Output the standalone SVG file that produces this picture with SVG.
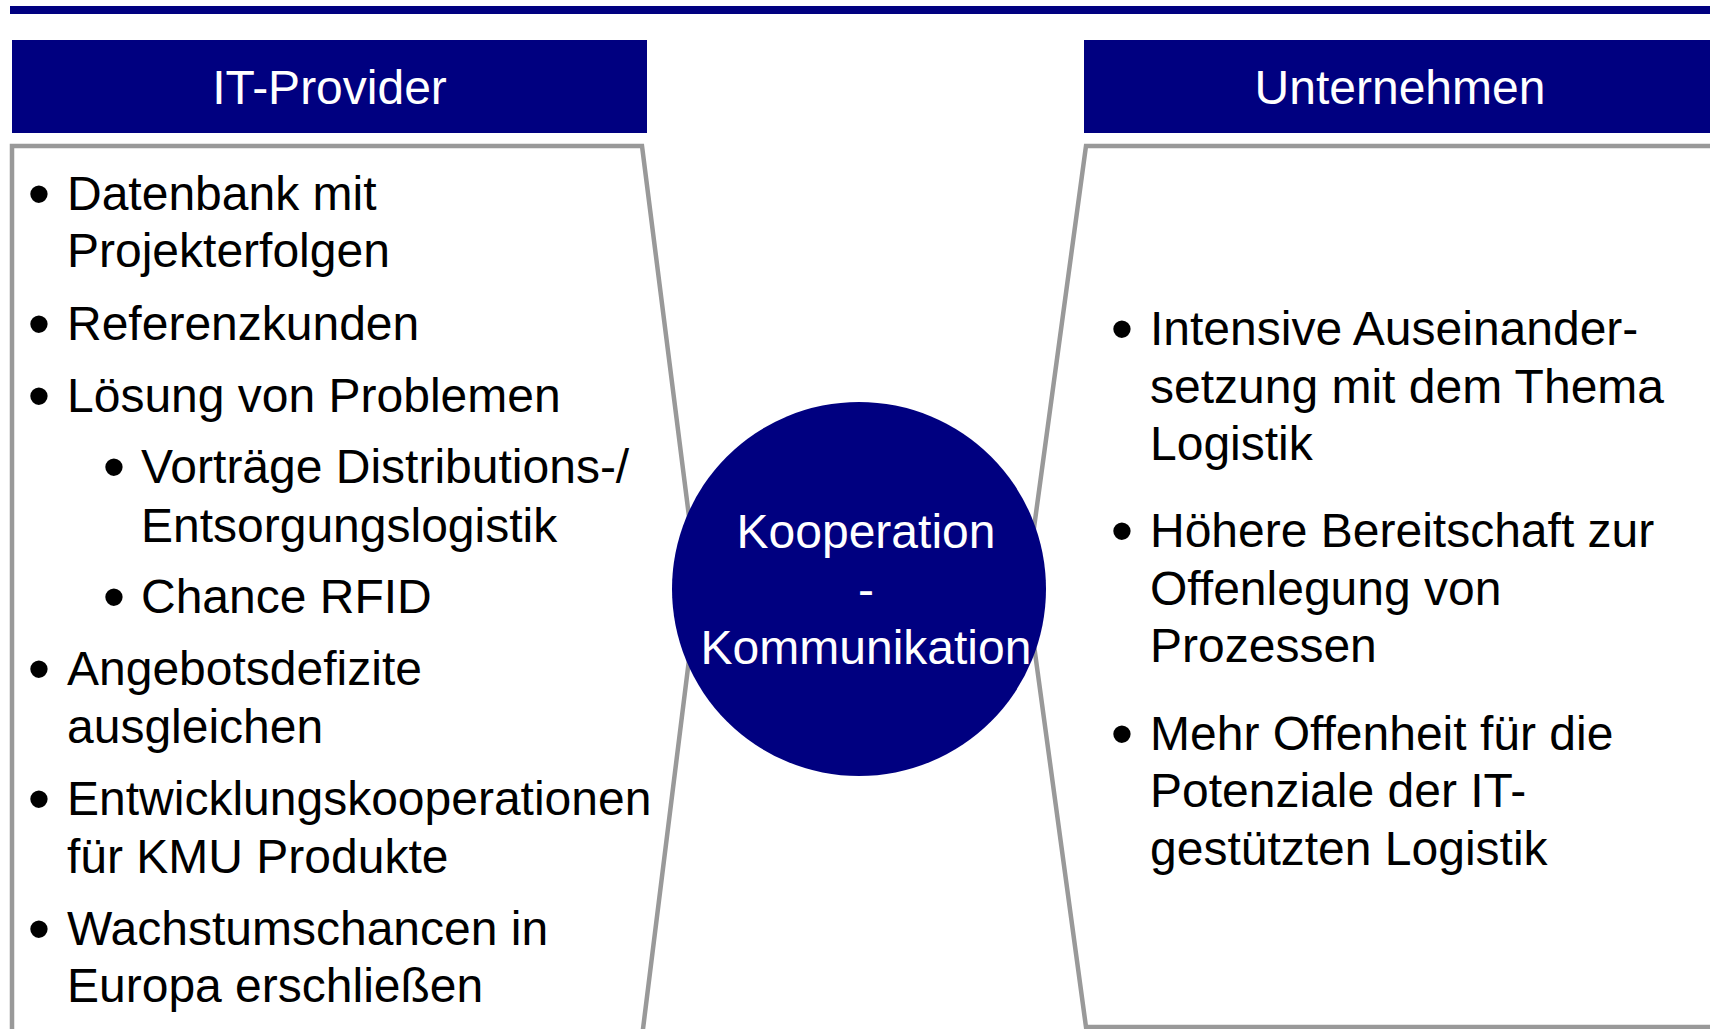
<svg xmlns="http://www.w3.org/2000/svg" width="1710" height="1029" viewBox="0 0 1710 1029">
<style>
.hdr{fill:#000080}
.box{fill:#ffffff;stroke:#999999;stroke-width:4.5;stroke-linejoin:miter}
.ht{font-family:"Liberation Sans",Arial,sans-serif;font-size:48px;fill:#ffffff;text-anchor:middle}
.t{font-family:"Liberation Sans",Arial,sans-serif;font-size:48px;fill:#000000}
.b{font-family:"Liberation Sans",Arial,sans-serif;font-size:64px;fill:#000000;text-anchor:middle}
.ct{font-family:"Liberation Sans",Arial,sans-serif;font-size:48px;fill:#ffffff;text-anchor:middle}
</style>
<rect x="0" y="0" width="1710" height="1029" fill="#ffffff"/>
<rect id="topbar" x="10" y="6" width="1700" height="8" fill="#000080"/>
<g id="connectors"></g>
<g id="left-box">
<polygon class="box" points="12,146 642,146 698,587.5 641,1045 12,1045"/>
<text class="b" x="39" y="216">•</text>
<text class="t" x="67" y="210">Datenbank mit</text>
<text class="t" x="67" y="267">Projekterfolgen</text>
<text class="b" x="39" y="346">•</text>
<text class="t" x="67" y="340">Referenzkunden</text>
<text class="b" x="39" y="418">•</text>
<text class="t" x="67" y="412">Lösung von Problemen</text>
<text class="b" x="114" y="489">•</text>
<text class="t" x="141" y="483">Vorträge Distributions-/</text>
<text class="t" x="141" y="542">Entsorgungslogistik</text>
<text class="b" x="114" y="619">•</text>
<text class="t" x="141" y="613">Chance RFID</text>
<text class="b" x="39" y="691">•</text>
<text class="t" x="67" y="685">Angebotsdefizite</text>
<text class="t" x="67" y="743">ausgleichen</text>
<text class="b" x="39" y="821">•</text>
<text class="t" x="67" y="815">Entwicklungskooperationen</text>
<text class="t" x="67" y="873">für KMU Produkte</text>
<text class="b" x="39" y="951">•</text>
<text class="t" x="67" y="945">Wachstumschancen in</text>
<text class="t" x="67" y="1002">Europa erschließen</text>
</g>
<g id="right-box">
<polygon class="box" points="1086,146 1720,146 1720,1027 1086,1027 1026,586.5"/>
<text class="b" x="1122" y="351">•</text>
<text class="t" x="1150" y="345">Intensive Auseinander-</text>
<text class="t" x="1150" y="403">setzung mit dem Thema</text>
<text class="t" x="1150" y="460">Logistik</text>
<text class="b" x="1122" y="553">•</text>
<text class="t" x="1150" y="547">Höhere Bereitschaft zur</text>
<text class="t" x="1150" y="605">Offenlegung von</text>
<text class="t" x="1150" y="662">Prozessen</text>
<text class="b" x="1122" y="756">•</text>
<text class="t" x="1150" y="750">Mehr Offenheit für die</text>
<text class="t" x="1150" y="807">Potenziale der IT-</text>
<text class="t" x="1150" y="865">gestützten Logistik</text>
</g>
<g id="header-it-provider">
<rect class="hdr" x="12" y="40" width="635" height="93"/>
<text class="ht" x="329.5" y="104">IT-Provider</text>
</g>
<g id="header-unternehmen">
<rect class="hdr" x="1084" y="40" width="626" height="93"/>
<text class="ht" x="1400" y="104">Unternehmen</text>
</g>
<g id="center-circle">
<circle cx="859" cy="589" r="187" fill="#000080"/>
<text class="ct" x="866" y="548">Kooperation</text>
<text class="ct" x="866" y="606">-</text>
<text class="ct" x="866" y="664">Kommunikation</text>
</g>
</svg>
